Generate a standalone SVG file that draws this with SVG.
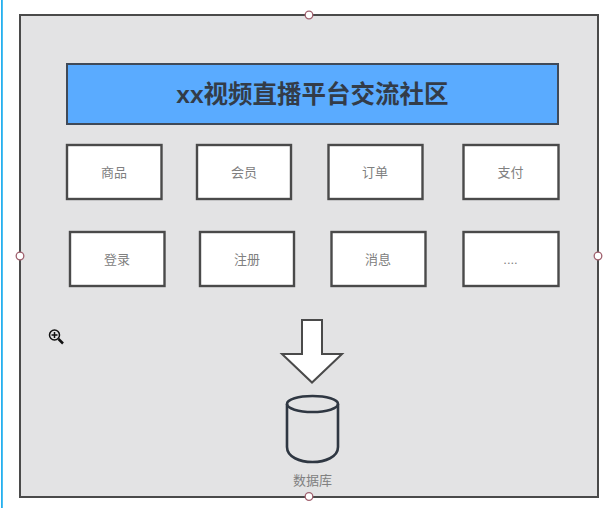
<svg xmlns="http://www.w3.org/2000/svg" width="607" height="508" viewBox="0 0 607 508">
<style>
.box{fill:#fff;stroke:#4a4a4a;stroke-width:2.4}
.lbl{font-family:"Liberation Sans","Noto Sans CJK SC",sans-serif;font-size:13px;fill:#808080;text-anchor:middle}
.hd{fill:#fff;stroke:#a0606e;stroke-width:1.3}
.db{fill:none;stroke:#2f3742;stroke-width:2.6}
</style>
<rect width="607" height="508" fill="#fff"/>
<rect x="1" y="0" width="1.800" height="508" fill="#25b0ee"/>
<g id="container"><rect x="20" y="15" width="578" height="482" fill="#e3e3e4" stroke="#4a4a4a" stroke-width="2"/></g>
<g id="handles">
<circle class="hd" cx="309" cy="15" r="3.800"/><circle class="hd" cx="20" cy="256" r="3.800"/><circle class="hd" cx="598" cy="256" r="3.800"/><circle class="hd" cx="309" cy="496.500" r="3.800"/>
</g>
<g id="title"><rect x="67" y="64" width="491" height="60" fill="#5aabff" stroke="#404a58" stroke-width="2"/>
<text x="312.500" y="103" font-family="'Liberation Sans','Noto Sans CJK SC',sans-serif" font-size="24.500" font-weight="700" fill="#333c48" text-anchor="middle">xx视频直播平台交流社区</text></g>
<g id="n1"><rect class="box" x="67" y="145" width="94.500" height="54"/><text class="lbl" x="114" y="177">商品</text></g>
<g id="n2"><rect class="box" x="197" y="145" width="94" height="54"/><text class="lbl" x="244" y="177">会员</text></g>
<g id="n3"><rect class="box" x="328.500" y="145" width="94" height="54"/><text class="lbl" x="375" y="177">订单</text></g>
<g id="n4"><rect class="box" x="463.500" y="145" width="95" height="54"/><text class="lbl" x="510.500" y="177">支付</text></g>
<g id="n5"><rect class="box" x="70" y="232" width="94.500" height="54"/><text class="lbl" x="117" y="264">登录</text></g>
<g id="n6"><rect class="box" x="200" y="232" width="94" height="54"/><text class="lbl" x="247" y="264">注册</text></g>
<g id="n7"><rect class="box" x="331.500" y="232" width="94" height="54"/><text class="lbl" x="378" y="264">消息</text></g>
<g id="n8"><rect class="box" x="463.500" y="232" width="95" height="54"/><text class="lbl" x="510.500" y="264">....</text></g>
<g id="arrow"><path d="M302 320H322V354H342L312 382.500L282 354H302Z" fill="#fff" stroke="#4a4a4a" stroke-width="2"/></g>
<g id="database"><path class="db" d="M287 404V447C287 467 338 467 338 447V404" fill="#e3e3e4"/><ellipse class="db" cx="312.500" cy="404" rx="25.500" ry="8"/><text class="lbl" x="312.500" y="485">数据库</text></g>
<g id="cursor" fill="none" stroke="#111"><circle cx="54.500" cy="335" r="5" stroke-width="1.500"/><path d="M51.500 335h6M54.500 332v6" stroke-width="1.500"/><path d="M58.500 339L63 343.500" stroke-width="2.500"/></g>
</svg>
